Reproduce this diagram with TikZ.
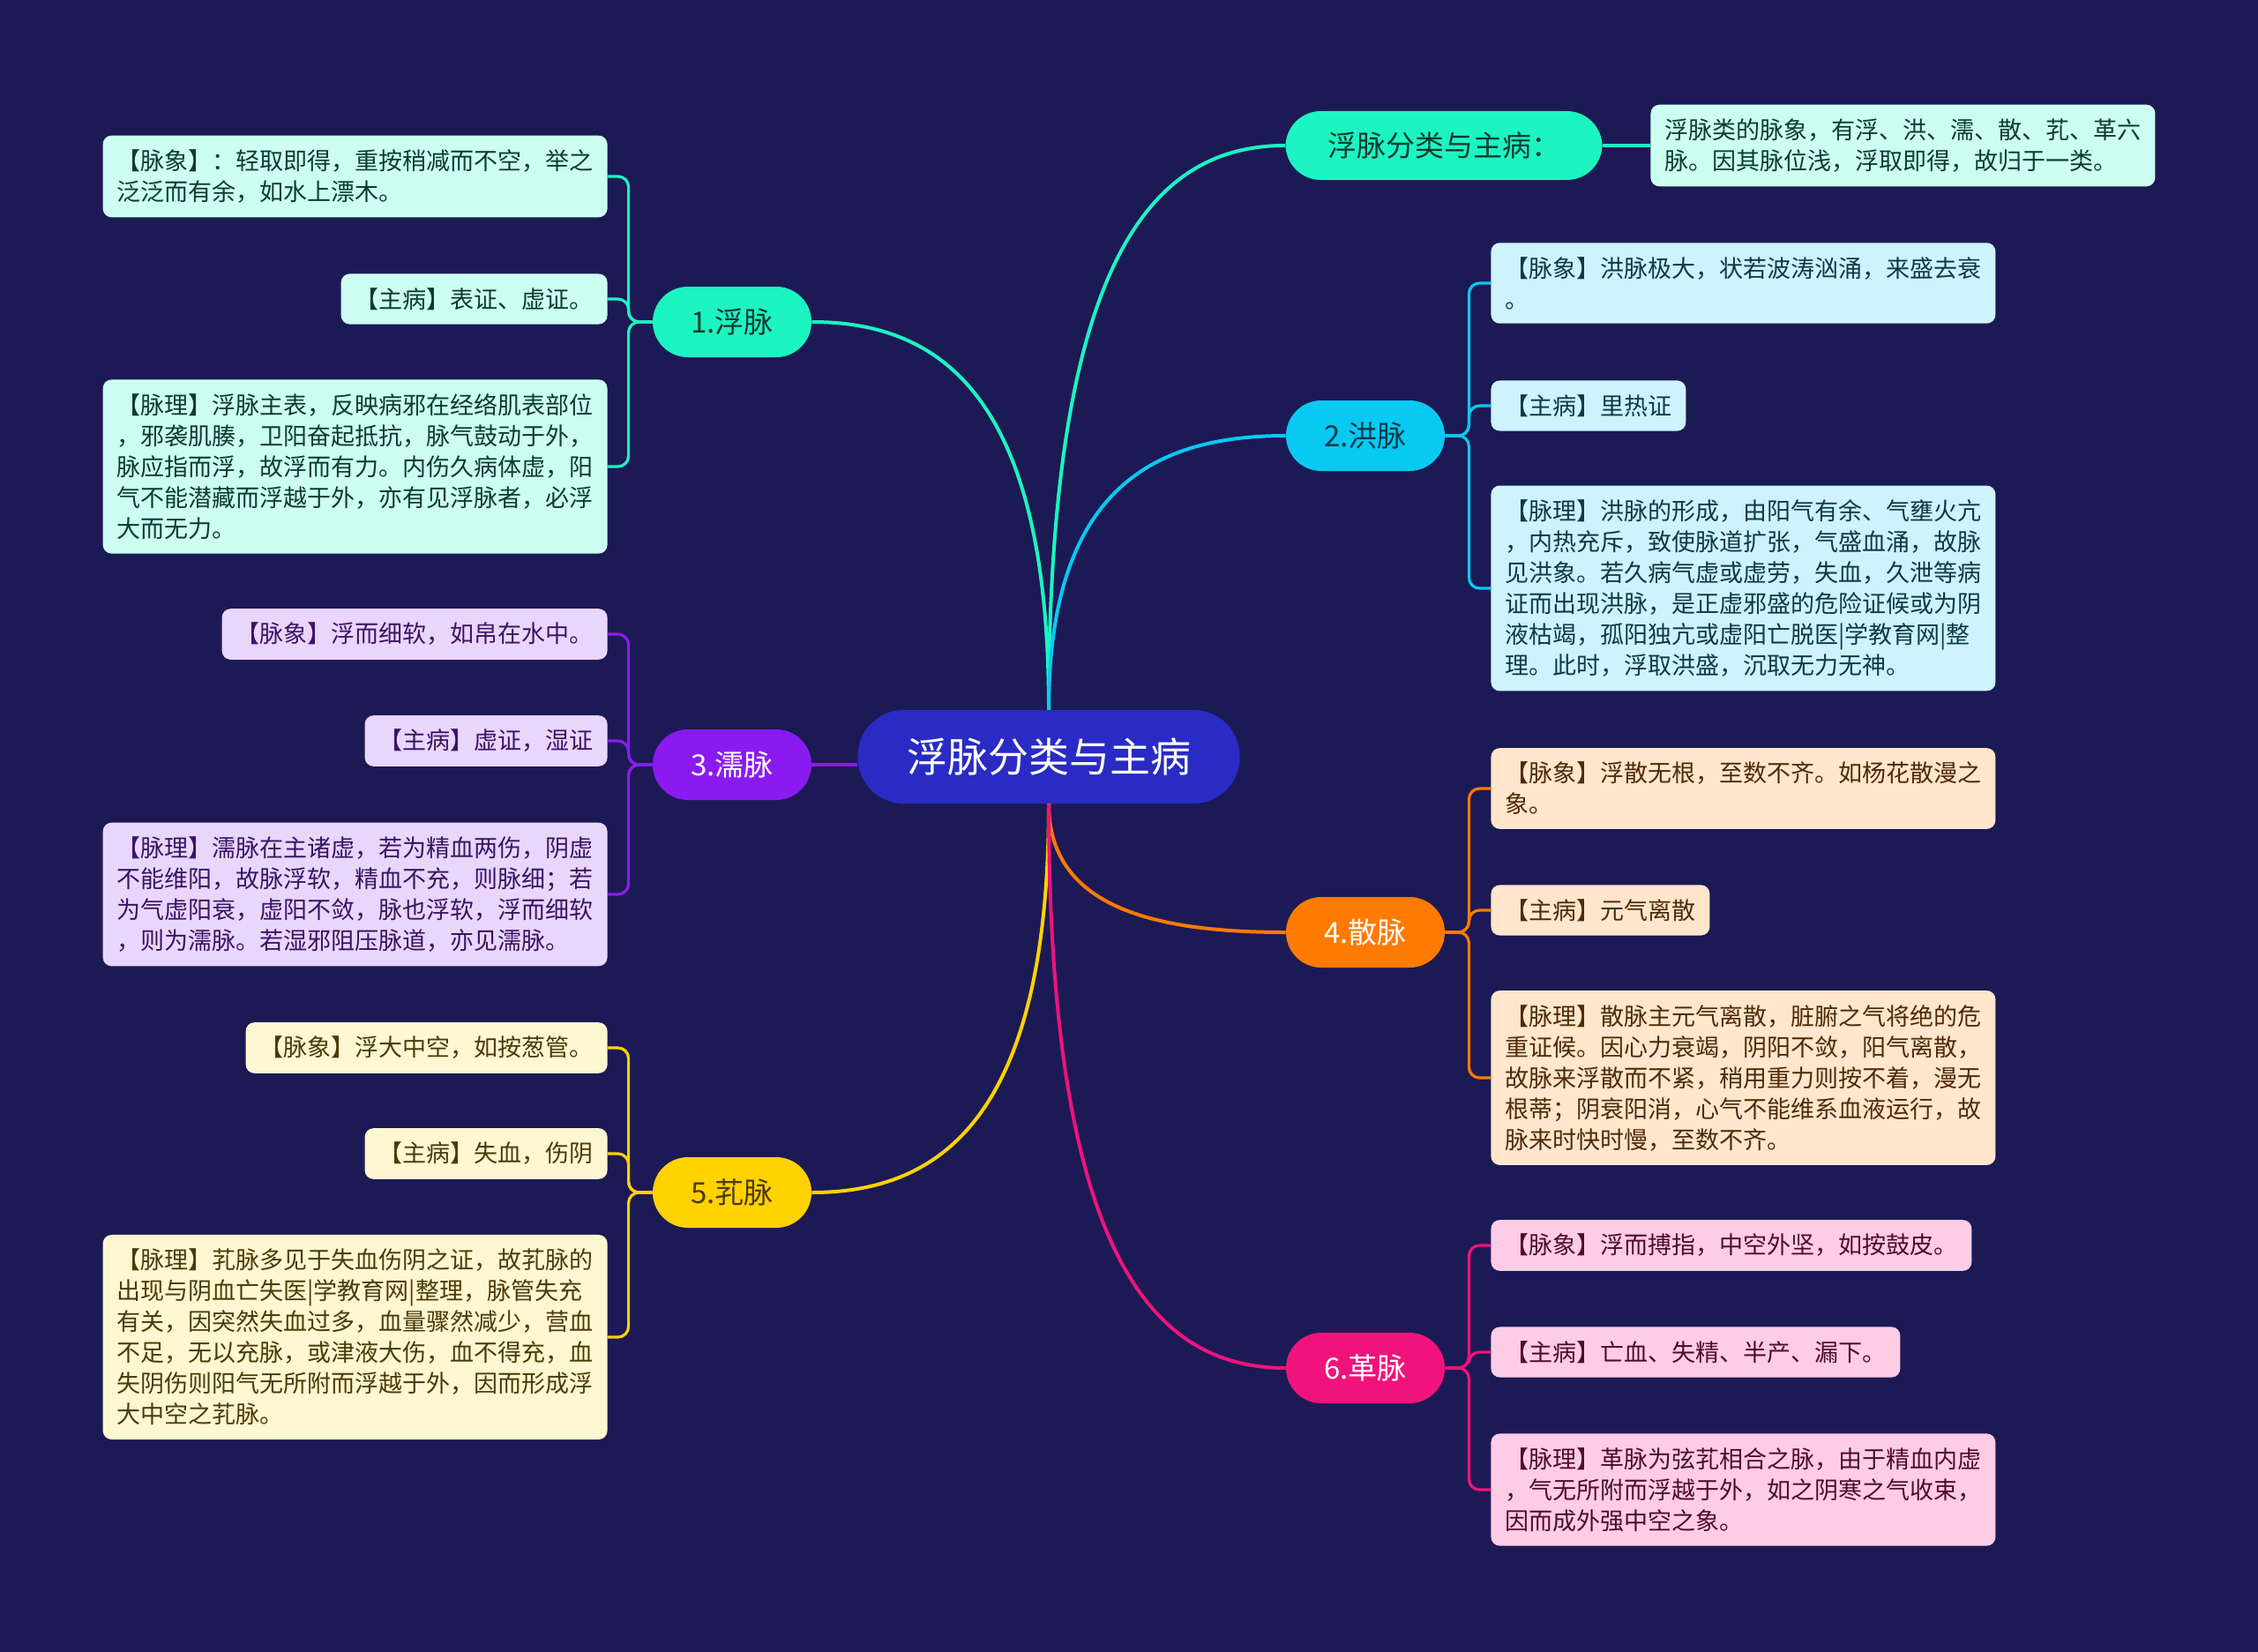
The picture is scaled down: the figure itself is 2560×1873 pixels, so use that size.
\documentclass[tikz,border=0pt]{standalone}
\usepackage{fontspec}
\setmainfont{Noto Sans CJK SC}
\usetikzlibrary{positioning}
\definecolor{bg}{HTML}{1C1A55}
\definecolor{rootblue}{HTML}{2A2BC4}
\definecolor{mint}{HTML}{1CF5C2}
\definecolor{mintbox}{HTML}{CCFFF2}
\definecolor{minttext}{HTML}{0E3B30}
\definecolor{sky}{HTML}{08C9F2}
\definecolor{skybox}{HTML}{CFF3FD}
\definecolor{skytext}{HTML}{0B3A48}
\definecolor{violet}{HTML}{8A1BF0}
\definecolor{violetbox}{HTML}{E9D6FB}
\definecolor{violettext}{HTML}{3A1466}
\definecolor{amber}{HTML}{FF7A00}
\definecolor{amberbox}{HTML}{FFE6CC}
\definecolor{ambertext}{HTML}{4F2A08}
\definecolor{gold}{HTML}{FFD200}
\definecolor{goldbox}{HTML}{FFF7D1}
\definecolor{goldtext}{HTML}{4A3B0B}
\definecolor{rose}{HTML}{F0137C}
\definecolor{rosebox}{HTML}{FFCCE6}
\definecolor{rosetext}{HTML}{4F0B2A}
\tikzset{
  root/.style={
    fill=rootblue,
    text=white,
    rounded corners=26pt,
    minimum width=216.5pt,
    minimum height=53pt,
    font=\fontsize{23}{27}\selectfont
  },
  branch/.style={
    rounded corners=20pt,
    minimum width=90pt,
    minimum height=40pt,
    font=\fontsize{16.5}{20}\selectfont
  },
  leaf/.style={
    rounded corners=5pt,
    inner xsep=8pt,
    inner ysep=8pt,
    align=left,
    font=\fontsize{13.5}{17.5}\selectfont
  },
  trunk/.style={
    line width=2pt
  },
  twig/.style={
    line width=1.6pt,
    rounded corners=6pt
  }
}

\begin{document}
\begin{tikzpicture}[x=0.5pt,y=-0.5pt]
  \path[use as bounding box, fill=bg] (0,0) rectangle (2560,1873);

  % Root
  \node[root] (root) at (1189,858) {浮脉分类与主病};

  % Branches
  \node[branch, fill=mint, text=minttext, minimum width=179.5pt, minimum height=39pt]
    (head) at (1637,165) {浮脉分类与主病：};
  \node[branch, fill=mint, text=minttext] (b1) at (830,365) {1.浮脉};
  \node[branch, fill=sky, text=skytext] (b2) at (1548,494) {2.洪脉};
  \node[branch, fill=violet, text=white] (b3) at (830,867) {3.濡脉};
  \node[branch, fill=amber, text=white] (b4) at (1548,1057) {4.散脉};
  \node[branch, fill=gold, text=goldtext] (b5) at (830,1352) {5.芤脉};
  \node[branch, fill=rose, text=white] (b6) at (1548,1551) {6.革脉};

  % Summary
  \node[leaf, fill=mintbox, text=minttext, anchor=west] (b0) at (1871,165)
    {浮脉类的脉象，有浮、洪、濡、散、芤、革六\\脉。因其脉位浅，浮取即得，故归于一类。};

  % 1.浮脉
  \node[leaf, fill=mintbox, text=minttext, anchor=east] (b1a) at (689,200)
    {【脉象】：轻取即得，重按稍减而不空，举之\\泛泛而有余，如水上漂木。};
  \node[leaf, fill=mintbox, text=minttext, anchor=east] (b1b) at (689,339)
    {【主病】表证、虚证。};
  \node[leaf, fill=mintbox, text=minttext, anchor=east] (b1c) at (689,529)
    {【脉理】浮脉主表，反映病邪在经络肌表部位\\，邪袭肌腠，卫阳奋起抵抗，脉气鼓动于外，\\脉应指而浮，故浮而有力。内伤久病体虚，阳\\气不能潜藏而浮越于外，亦有见浮脉者，必浮\\大而无力。};

  % 3.濡脉
  \node[leaf, fill=violetbox, text=violettext, anchor=east] (b3a) at (689,719)
    {【脉象】浮而细软，如帛在水中。};
  \node[leaf, fill=violetbox, text=violettext, anchor=east] (b3b) at (689,840)
    {【主病】虚证，湿证};
  \node[leaf, fill=violetbox, text=violettext, anchor=east] (b3c) at (689,1014)
    {【脉理】濡脉在主诸虚，若为精血两伤，阴虚\\不能维阳，故脉浮软，精血不充，则脉细；若\\为气虚阳衰，虚阳不敛，脉也浮软，浮而细软\\，则为濡脉。若湿邪阻压脉道，亦见濡脉。};

  % 5.芤脉
  \node[leaf, fill=goldbox, text=goldtext, anchor=east] (b5a) at (689,1188)
    {【脉象】浮大中空，如按葱管。};
  \node[leaf, fill=goldbox, text=goldtext, anchor=east] (b5b) at (689,1308)
    {【主病】失血，伤阴};
  \node[leaf, fill=goldbox, text=goldtext, anchor=east] (b5c) at (689,1516)
    {【脉理】芤脉多见于失血伤阴之证，故芤脉的\\出现与阴血亡失医|学教育网|整理，脉管失充\\有关，因突然失血过多，血量骤然减少，营血\\不足，无以充脉，或津液大伤，血不得充，血\\失阴伤则阳气无所附而浮越于外，因而形成浮\\大中空之芤脉。};

  % 2.洪脉
  \node[leaf, fill=skybox, text=skytext, anchor=west] (b2a) at (1690,321)
    {【脉象】洪脉极大，状若波涛汹涌，来盛去衰\\。};
  \node[leaf, fill=skybox, text=skytext, anchor=west] (b2b) at (1690,460)
    {【主病】里热证};
  \node[leaf, fill=skybox, text=skytext, anchor=west] (b2c) at (1690,667)
    {【脉理】洪脉的形成，由阳气有余、气壅火亢\\，内热充斥，致使脉道扩张，气盛血涌，故脉\\见洪象。若久病气虚或虚劳，失血，久泄等病\\证而出现洪脉，是正虚邪盛的危险证候或为阴\\液枯竭，孤阳独亢或虚阳亡脱医|学教育网|整\\理。此时，浮取洪盛，沉取无力无神。};

  % 4.散脉
  \node[leaf, fill=amberbox, text=ambertext, anchor=west] (b4a) at (1690,894)
    {【脉象】浮散无根，至数不齐。如杨花散漫之\\象。};
  \node[leaf, fill=amberbox, text=ambertext, anchor=west] (b4b) at (1690,1032)
    {【主病】元气离散};
  \node[leaf, fill=amberbox, text=ambertext, anchor=west] (b4c) at (1690,1222)
    {【脉理】散脉主元气离散，脏腑之气将绝的危\\重证候。因心力衰竭，阴阳不敛，阳气离散，\\故脉来浮散而不紧，稍用重力则按不着，漫无\\根蒂；阴衰阳消，心气不能维系血液运行，故\\脉来时快时慢，至数不齐。};

  % 6.革脉
  \node[leaf, fill=rosebox, text=rosetext, anchor=west] (b6a) at (1690,1412)
    {【脉象】浮而搏指，中空外坚，如按鼓皮。};
  \node[leaf, fill=rosebox, text=rosetext, anchor=west] (b6b) at (1690,1533)
    {【主病】亡血、失精、半产、漏下。};
  \node[leaf, fill=rosebox, text=rosetext, anchor=west] (b6c) at (1690,1689)
    {【脉理】革脉为弦芤相合之脉，由于精血内虚\\，气无所附而浮越于外，如之阴寒之气收束，\\因而成外强中空之象。};

  % Root to branches
  \draw[trunk, mint] (root.north) .. controls +(0,-512) and +(-150,0) .. (head.west);
  \draw[trunk, mint] (root.north) .. controls +(0,-350) and +(150,0) .. (b1.east);
  \draw[trunk, sky] (root.north) .. controls +(0,-250) and +(-150,0) .. (b2.west);
  \draw[trunk, violet] (b3.east) -- (b3.east -| root.west);
  \draw[trunk, amber] (root.south) .. controls +(0,117) and +(-150,0) .. (b4.west);
  \draw[trunk, gold] (root.south) .. controls +(0,350) and +(150,0) .. (b5.east);
  \draw[trunk, rose] (root.south) .. controls +(0,512) and +(-150,0) .. (b6.west);
  \draw[trunk, mint] (head.east) -- (b0.west);

  % Branches to leaves
  \foreach \leaf in {b1a,b1b,b1c}
    \draw[twig, mint] (b1.west) -- ++(-27,0) |- (\leaf.east);
  \foreach \leaf in {b3a,b3b,b3c}
    \draw[twig, violet] (b3.west) -- ++(-27,0) |- (\leaf.east);
  \foreach \leaf in {b5a,b5b,b5c}
    \draw[twig, gold] (b5.west) -- ++(-27,0) |- (\leaf.east);
  \foreach \leaf in {b2a,b2b,b2c}
    \draw[twig, sky] (b2.east) -- ++(27,0) |- (\leaf.west);
  \foreach \leaf in {b4a,b4b,b4c}
    \draw[twig, amber] (b4.east) -- ++(27,0) |- (\leaf.west);
  \foreach \leaf in {b6a,b6b,b6c}
    \draw[twig, rose] (b6.east) -- ++(27,0) |- (\leaf.west);
\end{tikzpicture}
\end{document}
